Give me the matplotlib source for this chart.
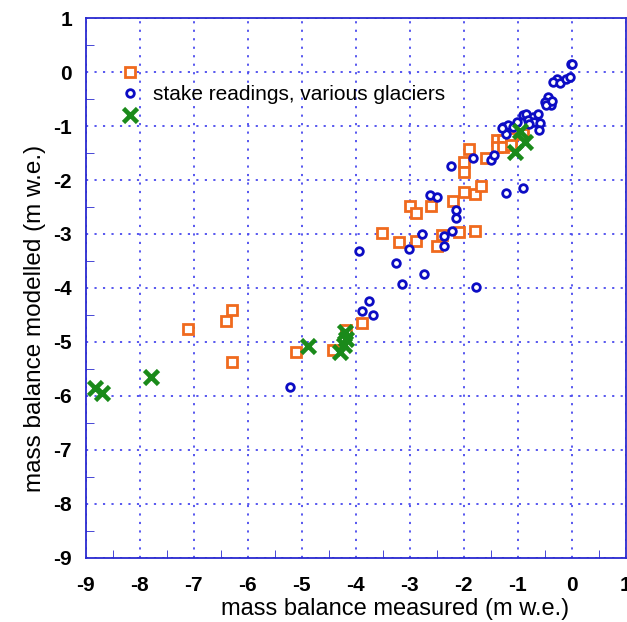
import matplotlib
matplotlib.use("Agg")
import matplotlib.pyplot as plt
from matplotlib.ticker import MultipleLocator

# stake readings (measured, modelled) in m w.e.
sq_meas = [-7.11, -6.30, -6.41, -6.30, -5.11, -4.42, -3.89, -4.19,
           -3.51, -3.20, -3.00, -2.89, -2.89, -2.60, -2.49, -2.40, -2.20, -2.09,
           -2.00, -1.80, -1.80, -1.69, -2.00, -2.00, -1.90, -1.59,
           -1.39, -1.27, -1.39, -1.27, -1.12, -1.12, -0.90]
sq_mod = [-4.76, -4.41, -4.61, -5.38, -5.19, -5.14, -4.64, -4.78,
          -2.99, -3.14, -2.48, -2.61, -3.13, -2.49, -3.22, -3.01, -2.39, -2.96,
          -2.23, -2.26, -2.94, -2.11, -1.66, -1.85, -1.43, -1.60,
          -1.26, -1.26, -1.38, -1.38, -1.23, -1.35, -1.14]

ci_meas = [-5.22, -3.89, -3.75, -3.69, -3.94, -3.25, -3.15, -3.01, -2.73, -2.78,
           -2.63, -2.49, -2.36, -2.36, -2.21, -2.15, -2.15, -1.77, -2.23, -1.83,
           -1.49, -1.44, -1.21, -0.90, -1.27, -1.18, -1.09, -1.22, -1.30, -1.02,
           -0.90, -0.84, -0.72, -0.62, -0.81, -0.70, -0.59, -0.61, -0.79,
           -0.44, -0.50, -0.38, -0.47, -0.36, -0.28, -0.35, -0.22, -0.10, -0.04,
           -0.02, 0.01]
ci_mod = [-5.84, -4.43, -4.25, -4.50, -3.31, -3.54, -3.93, -3.27, -3.74, -3.00,
          -2.27, -2.31, -3.04, -3.23, -2.94, -2.56, -2.70, -3.98, -1.74, -1.60,
          -1.63, -1.54, -2.24, -2.15, -1.01, -0.98, -1.01, -1.15, -1.04, -0.92,
          -0.80, -0.77, -0.83, -0.77, -0.89, -0.92, -0.95, -1.07, -0.96,
          -0.46, -0.55, -0.61, -0.61, -0.53, -0.12, -0.18, -0.21, -0.12, -0.09,
          0.14, 0.15]

x_meas = [-8.83, -8.71, -7.80, -4.88, -4.20, -4.18, -4.22, -4.30, -0.96, -0.87, -1.06]
x_mod = [-5.86, -5.95, -5.64, -5.07, -4.82, -4.95, -5.05, -5.18, -1.10, -1.29, -1.48]

orange = "#f06a1e"
blue = "#0c0cc4"
green = "#1a8a1a"
axcol = "#2a2ad0"

plt.rcParams['font.family'] = ['Liberation Sans', 'DejaVu Sans']
plt.rcParams['axes.unicode_minus'] = False

fig = plt.figure(figsize=(6.27, 6.22), dpi=100)
ax = fig.add_axes([0.137, 0.103, 0.861, 0.868])

ax.set_xlim(-9, 1)
ax.set_ylim(-9, 1)
ax.xaxis.set_major_locator(MultipleLocator(1))
ax.yaxis.set_major_locator(MultipleLocator(1))
ax.xaxis.set_minor_locator(MultipleLocator(0.5))
ax.yaxis.set_minor_locator(MultipleLocator(0.5))

ax.grid(True, which="major", color="#4a4aee", linestyle=(0, (1.2, 3.5)), linewidth=1.3)
ax.set_axisbelow(True)

h1, = ax.plot(sq_meas, sq_mod, ls="none", marker="s", ms=6.5, mfc="white",
              mec=orange, mew=2.0)
h2, = ax.plot(ci_meas, ci_mod, ls="none", marker="o", ms=5.5, mfc="white",
              mec=blue, mew=2.0)
h3, = ax.plot(x_meas, x_mod, ls="none", marker="x", ms=10, mec=green, mew=3.3)

for s in ax.spines.values():
    s.set_color(axcol)
    s.set_linewidth(1.3)
ax.tick_params(which="both", direction="in", color=axcol, top=False, right=False,
               labelsize=15, labelcolor="black")
ax.tick_params(which="major", length=0)
ax.tick_params(axis="x", which="major", pad=13)
ax.tick_params(axis="y", which="major", pad=10)
ax.tick_params(which="minor", length=6)
for lab in ax.get_xticklabels() + ax.get_yticklabels():
    lab.set_fontweight("bold")

ax.set_xlabel("mass balance measured (m w.e.)", fontsize=17, va="center")
ax.set_ylabel("mass balance modelled (m w.e.)", fontsize=17.5, va="center")
ax.xaxis.set_label_coords(0.572, -0.094)
ax.yaxis.set_label_coords(-0.094, 0.443)

ax.legend([h1, h2, h3], ["", "stake readings, various glaciers", ""],
          loc="upper left", bbox_to_anchor=(0.063, 0.915), frameon=False,
          fontsize=15, handlelength=1, handletextpad=0.6, labelspacing=0.12,
          borderpad=0, borderaxespad=0, numpoints=1)

fig.savefig("out.png", dpi=100)
